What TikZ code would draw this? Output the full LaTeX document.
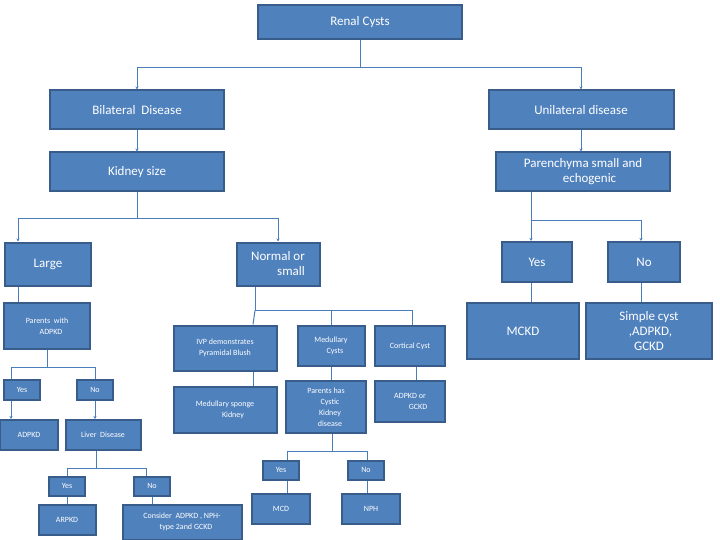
\documentclass[tikz,border=0pt]{standalone}
\usepackage{fontspec}
\setmainfont{Carlito}
\usetikzlibrary{arrows.meta}
\definecolor{fillb}{HTML}{4F81BD}
\definecolor{edgeb}{HTML}{385D8A}
\definecolor{lineb}{HTML}{4A7EBB}
\begin{document}
\begin{tikzpicture}[x=1pt,y=-1pt,
 box/.style={draw=edgeb,line width=2pt,fill=fillb,text=white,align=center,inner sep=1pt,font=\fontsize{13}{15}\selectfont},
 sm/.style={box,font=\fontsize{9}{13}\selectfont},
 tn/.style={box,font=\fontsize{8}{11}\selectfont},
 ln/.style={draw=lineb,line width=1pt},
 ar/.style={ln,-{Stealth[length=3pt,width=3pt]}}]
\useasboundingbox (0,0) rectangle (720,540);
\def\B#1#2#3#4#5#6{\node[#1,minimum width=#4,minimum height=#5] (#2) at (#3) {#6};}
\B{box}{renal}{360,22}{204}{34}{Renal Cysts}
\B{box}{bil}{137,110}{174}{39}{Bilateral\ \ Disease}
\B{box}{uni}{581,110}{185}{39}{Unilateral disease}
\B{box}{kid}{137,172}{174}{39}{Kidney size}
\B{box}{par}{583,172}{174}{39}{Parenchyma small and\\\quad echogenic}
\B{box}{large}{48,264}{86}{43}{Large}
\B{box}{norm}{278,264}{83}{43}{Normal or\\\hfill small}
\B{box}{yesR}{537,262}{70}{40}{Yes}
\B{box}{noR}{644,262}{72}{40}{No}
\B{box}{mckd}{523,331}{112}{56}{MCKD}
\B{box}{simple}{649,331}{126}{56}{Simple cyst\\\ ,ADPKD,\\GCKD}
\B{tn}{pwa}{47,326}{86}{46}{Parents\ \ with\\\quad ADPKD}
\B{tn}{ivp}{225,348}{103}{45}{IVP demonstrates\\Pyramidal Blush}
\B{tn}{medc}{331,346}{67}{40}{Medullary\\\quad Cysts}
\B{tn}{cort}{410,346}{70}{40}{Cortical Cyst}
\B{tn}{yesL}{22,390}{36}{20}{Yes}
\B{tn}{noL}{95,390}{36}{20}{No}
\B{tn}{adpkd}{29,435}{58}{30}{ADPKD}
\B{tn}{liver}{103,435}{75}{30}{Liver\ \ Disease}
\B{tn}{msk}{225,410}{103}{46}{Medullary sponge\\\qquad Kidney}
\B{tn}{phc}{326,407}{80}{52}{Parents has\\\quad Cystic\\\quad Kidney\\\quad disease}
\B{tn}{adgc}{410,401}{70}{41}{ADPKD or\\\qquad GCKD}
\B{tn}{yesM}{281,470}{36}{19}{Yes}
\B{tn}{noM}{366,470}{36}{19}{No}
\B{tn}{yesLL}{67,486}{36}{19}{Yes}
\B{tn}{noLL}{152,486}{36}{19}{No}
\B{tn}{mcd}{281,509}{58}{30}{MCD}
\B{tn}{nph}{371,509}{58}{30}{NPH}
\B{tn}{arpkd}{67,520}{57}{30}{ARPKD}
\B{tn}{cons}{182,522}{119}{35}{Consider\ \ ADPKD , NPH-\\\quad type 2and GCKD}
% connectors
\draw[ln] (renal.south) -- ++(0,28) coordinate (j1);
\draw[ar] (j1) -| (bil.north);
\draw[ar] (j1) -| (uni.north);
\draw[ar] (bil) -- (kid);
\draw[ar] (uni) -- (uni |- par.north);
\draw[ln] (kid.south) -- ++(0,26) coordinate (j2);
\draw[ar] (j2) -| ([xshift=-30pt]large.north);
\draw[ar] (j2) -| (norm.north);
\draw[ln] ([xshift=-52pt]par.south) -- ++(0,28) coordinate (j3);
\draw[ar] (j3) -| ([xshift=-6pt]yesR.north);
\draw[ar] (j3) -| ([xshift=-3pt]noR.north);
\draw[ln] ([xshift=-6pt]yesR.south) -- ([xshift=-6pt]yesR.south |- mckd.north);
\draw[ln] ([xshift=-3pt]noR.south) -- ([xshift=-3pt]noR.south |- simple.north);
\draw[ln] ([xshift=-30pt]large.south) -- ([xshift=-30pt]large.south |- pwa.north);
\draw[ln] ([xshift=-23pt]norm.south) -- ++(0,24) coordinate (j4);
\draw[ln] (j4) -- ([xshift=28pt]ivp.north);
\draw[ln] (j4) -| (medc.north);
\draw[ln] (j4) -| ([xshift=2pt]cort.north);
\draw[ln] ([xshift=28pt]ivp.south) -- ([xshift=28pt]ivp.south |- msk.north);
\draw[ln] (medc.south) -- (medc.south |- phc.north);
\draw[ln] ([xshift=6pt]cort.south) -- ([xshift=6pt]cort.south |- adgc.north);
\draw[ln] (pwa.south) -- ++(0,17) coordinate (j5);
\draw[ln] (j5) -| ([xshift=-11pt]yesL.north);
\draw[ln] (j5) -| (noL.north);
\draw[ar] ([xshift=-11pt]yesL.south) -- ([xshift=-11pt]yesL.south |- adpkd.north);
\draw[ar] (noL.south) -- (noL.south |- liver.north);
\draw[ln] ([xshift=-7pt]liver.south) -- ++(0,17) coordinate (j6);
\draw[ln] (j6) -| (yesLL.north);
\draw[ln] (j6) -| ([xshift=-6pt]noLL.north);
\draw[ln] (yesLL) -- (arpkd);
\draw[ln] (noLL.south) -- (noLL.south |- cons.north);
\draw[ln] ([xshift=6pt]phc.south) -- ++(0,17) coordinate (j7);
\draw[ln] (j7) -| ([xshift=6pt]yesM.north);
\draw[ln] (j7) -| ([xshift=1pt]noM.north);
\draw[ln] ([xshift=6pt]yesM.south) -- ([xshift=6pt]yesM.south |- mcd.north);
\draw[ln] ([xshift=1pt]noM.south) -- ([xshift=1pt]noM.south |- nph.north);
\end{tikzpicture}
\end{document}
